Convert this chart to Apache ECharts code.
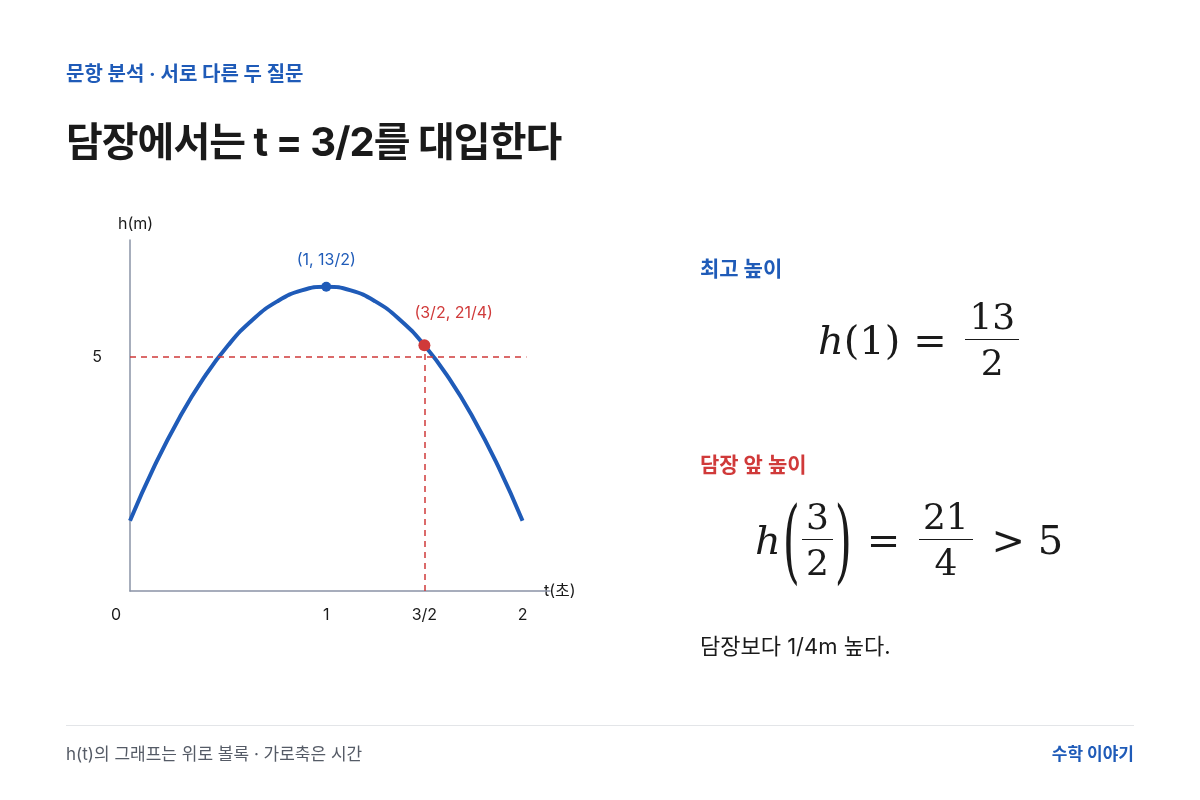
<!DOCTYPE html>
<html>
<head>
<meta charset="utf-8">
<title>담장 높이</title>
<script src="https://cdn.jsdelivr.net/npm/echarts@6/dist/echarts.min.js"></script>
<style>
    body { margin: 0; width: 1200px; height: 800px; background: #fff; font-family: "Inter", "Noto Sans CJK KR", "Noto Sans", sans-serif; position: relative; overflow: hidden; }
    #chart { position: absolute; left: 0; top: 0; width: 1200px; height: 800px; }
    .abs { position: absolute; white-space: nowrap; }
    .math { font-family: "DejaVu Serif", "Liberation Serif", serif; color: #1a1a1a; display: flex; align-items: center; }
    .math i { font-style: italic; }
    .frac { display: inline-flex; flex-direction: column; align-items: center; margin: 0 6px; font-size: 36px; line-height: 1.15; }
    .frac .num { border-bottom: 1.5px solid #1a1a1a; padding: 0 4px 2px; }
    .frac .den { padding-top: 2px; }
    .paren { display: inline-block; font-size: 44px; transform: scaleY(2.1); font-weight: 300; margin: 0 2px; }
</style>
</head>
<body>
<div id="chart"></div>
<div class="abs" style="left:66px;top:58px;font-size:20px;font-weight:700;color:#1f5bb8;">문항 분석 · 서로 다른 두 질문</div>
<div class="abs" style="left:66px;top:110px;font-size:40px;font-weight:700;color:#1a1a1a;letter-spacing:-1px;">담장에서는 t = 3/2를 대입한다</div>

<div class="abs" style="left:700px;top:252px;font-size:21px;font-weight:700;color:#1f5bb8;">최고 높이</div>
<div class="abs math" style="left:818px;top:296px;font-size:40px;">
    <i>h</i>(1)&nbsp;=&nbsp;<span class="frac"><span class="num">13</span><span class="den">2</span></span>
</div>
<div class="abs" style="left:700px;top:448px;font-size:21px;font-weight:700;color:#d03a3a;">담장 앞 높이</div>
<div class="abs math" style="left:755px;top:496px;font-size:40px;">
    <i>h</i><span class="paren">(</span><span class="frac" style="margin:0"><span class="num">3</span><span class="den">2</span></span><span class="paren">)</span>&nbsp;=&nbsp;<span class="frac"><span class="num">21</span><span class="den">4</span></span>&nbsp;&gt; 5
</div>
<div class="abs" style="left:700px;top:628px;font-size:22px;color:#1a1a1a;">담장보다 1/4m 높다.</div>

<div class="abs" style="left:66px;top:725px;width:1068px;border-top:1px solid #e3e5e8;"></div>
<div class="abs" style="left:66px;top:740px;font-size:17px;color:#555b66;">h(t)의 그래프는 위로 볼록 · 가로축은 시간</div>
<div class="abs" style="right:66px;top:740px;font-size:17px;font-weight:700;color:#1f5bb8;">수학 이야기</div>

<script>
    // 시간(초)과 높이(m)
    var tValues = [0, 0.125, 0.25, 0.375, 0.5, 0.625, 0.75, 0.875, 1, 1.125, 1.25, 1.375, 1.5, 1.625, 1.75, 1.875, 2];
    var hValues = [1.5, 2.672, 3.688, 4.547, 5.25, 5.797, 6.188, 6.422, 6.5, 6.422, 6.188, 5.797, 5.25, 4.547, 3.688, 2.672, 1.5];
    var xTickLabels = { 0: '0', 1: '1', 1.5: '3/2', 2: '2' };
    var wallHeight = 5;
    var peakPoint = [1, 6.5];
    var wallPoint = [1.5, 5.25];

    var blue = '#1f5bb8', red = '#d03a3a';
    var font = 'Inter, "Noto Sans CJK KR", sans-serif';
    var curve = tValues.map(function (t, i) { return [t, hValues[i]]; });

    var myChart = echarts.init(document.getElementById('chart'));
    myChart.setOption({
        animation: false,
        textStyle: { fontFamily: font },
        grid: { left: 130, top: 240, width: 420, height: 351 },
        xAxis: {
            type: 'value', min: 0, max: 2.14, interval: 0.5,
            splitLine: { show: false }, axisTick: { show: false },
            axisLine: { lineStyle: { color: '#8a93a6', width: 1.5 } },
            name: 't(초)', nameLocation: 'end', nameGap: -6,
            nameTextStyle: { color: '#1a1a1a', fontSize: 16, fontFamily: font, padding: [0, 0, 36, 0] },
            axisLabel: {
                margin: 16, color: '#1a1a1a', fontSize: 16, fontFamily: font, showMaxLabel: false,
                formatter: function (v) {
                    if (v === 0) return '{z|0}';
                    return xTickLabels[v] || '';
                },
                rich: { z: { fontSize: 16, color: '#1a1a1a', fontFamily: font, padding: [0, 28, 0, 0] } }
            }
        },
        yAxis: {
            type: 'value', min: 0, max: 7.5, interval: 2.5,
            splitLine: { show: false }, axisTick: { show: false },
            axisLine: { show: true, lineStyle: { color: '#8a93a6', width: 1.5 } },
            name: 'h(m)', nameLocation: 'end', nameGap: 8,
            nameTextStyle: { color: '#1a1a1a', fontSize: 16, fontFamily: font, align: 'left', padding: [0, 0, 0, -12] },
            axisLabel: {
                margin: 28, color: '#1a1a1a', fontSize: 16, fontFamily: font, showMaxLabel: false,
                formatter: function (v) { return v === wallHeight ? '5' : ''; }
            }
        },
        series: [
            {
                type: 'line', data: curve, smooth: true, symbol: 'none',
                lineStyle: { color: blue, width: 4 },
                markLine: {
                    silent: true, symbol: 'none', label: { show: false },
                    lineStyle: { color: red, type: [6, 5], width: 1.5, opacity: 1 },
                    data: [
                        [{ coord: [0, wallHeight] }, { coord: [2.02, wallHeight] }],
                        [{ coord: [wallPoint[0], 0] }, { coord: [wallPoint[0], wallPoint[1]] }]
                    ]
                }
            },
            {
                type: 'scatter', data: [peakPoint], symbolSize: 10, z: 5,
                itemStyle: { color: blue, opacity: 1 },
                label: { show: true, formatter: '(1, 13/2)', position: 'top', distance: 14, color: blue, fontSize: 16, fontFamily: font, opacity: 1 }
            },
            {
                type: 'scatter', data: [wallPoint], symbolSize: 12, z: 5,
                itemStyle: { color: red, opacity: 1 },
                label: { show: true, formatter: '(3/2, 21/4)', position: [-4, -34], color: red, fontSize: 16, fontFamily: font, opacity: 1 }
            }
        ]
    });
</script>
</body>
</html>
